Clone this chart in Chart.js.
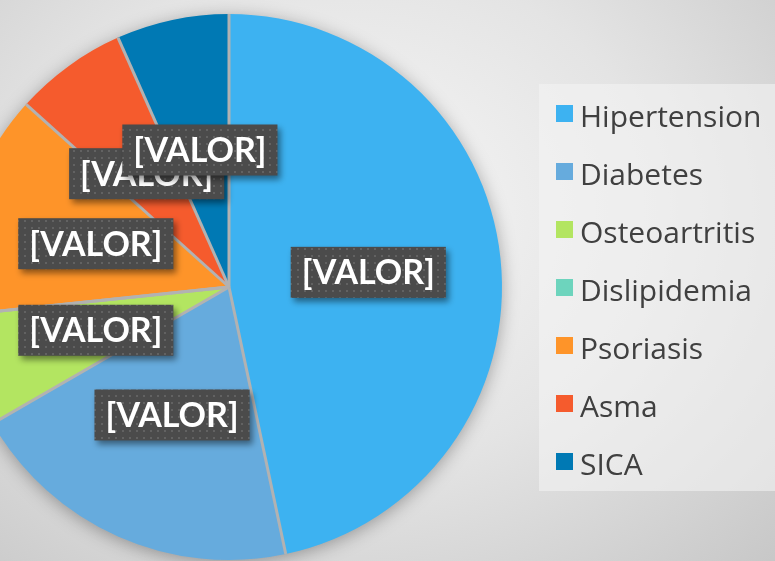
<!DOCTYPE html>
<html>
<head>
<meta charset="utf-8">
<script src="https://cdn.jsdelivr.net/npm/chart.js@4.4.1/dist/chart.umd.min.js"></script>
<style>
    html, body { margin: 0; padding: 0; }
    body {
        width: 775px; height: 561px; overflow: hidden;
        background: radial-gradient(ellipse 80% 90% at 45% 38%, #f7f7f7 0%, #e4e4e4 50%, #c6c6c6 100%);
    }
    #pieChart { display: block; }
</style>
</head>
<body>
<canvas id="pieChart" width="775" height="561"></canvas>
<script>
// ===== DATA =====
const categories = ['Hipertension', 'Diabetes', 'Osteoartritis', 'Dislipidemia', 'Psoriasis', 'Asma', 'SICA'];
const patientCounts = [14, 6, 2, 0, 4, 2, 2];
const valueLabels = ['[VALOR]', '[VALOR]', '[VALOR]', '[VALOR]', '[VALOR]', '[VALOR]', '[VALOR]'];
const sliceColors = ['#3db2f1', '#66abdd', '#b3e561', '#6dd4bd', '#fe9429', '#f55b2d', '#0079b4'];

// dotted fill used behind the data labels
function makeDotPattern(ctx) {
    const tile = document.createElement('canvas');
    tile.width = 7;
    tile.height = 7;
    const t = tile.getContext('2d');
    t.fillStyle = '#4b4b4b';
    t.fillRect(0, 0, 7, 7);
    t.fillStyle = '#626262';
    t.fillRect(3, 3, 2, 2);
    return ctx.createPattern(tile, 'repeat');
}

// soft shadow under the pie
const pieShadow = {
    id: 'pieShadow',
    beforeDatasetsDraw(chart) {
        const arc = chart.getDatasetMeta(0).data[0];
        if (!arc) return;
        const ctx = chart.ctx;
        ctx.save();
        ctx.shadowColor = 'rgba(0,0,0,0.35)';
        ctx.shadowBlur = 18;
        ctx.shadowOffsetY = 3;
        ctx.fillStyle = '#bbbbbb';
        ctx.beginPath();
        ctx.arc(arc.x, arc.y, arc.outerRadius - 1, 0, Math.PI * 2);
        ctx.fill();
        ctx.restore();
    }
};

// gray separators between slices (no outline on the outer edge)
const sliceSeparators = {
    id: 'sliceSeparators',
    afterDatasetsDraw(chart) {
        const ctx = chart.ctx;
        ctx.save();
        ctx.strokeStyle = '#b2b2b2';
        ctx.lineWidth = 3;
        chart.getDatasetMeta(0).data.forEach(arc => {
            ctx.beginPath();
            ctx.moveTo(arc.x, arc.y);
            ctx.lineTo(arc.x + Math.cos(arc.startAngle) * arc.outerRadius,
                       arc.y + Math.sin(arc.startAngle) * arc.outerRadius);
            ctx.stroke();
        });
        ctx.restore();
    }
};

// "[VALOR]" boxes placed along each slice's middle angle
const valueBoxes = {
    id: 'valueBoxes',
    afterDatasetsDraw(chart) {
        const ctx = chart.ctx;
        const pattern = makeDotPattern(ctx);
        const values = chart.data.datasets[0].data;
        ctx.save();
        ctx.font = 'bold 34px Lato';
        ctx.textAlign = 'center';
        ctx.textBaseline = 'middle';
        chart.getDatasetMeta(0).data.forEach((arc, i) => {
            if (!values[i]) return;
            const mid = (arc.startAngle + arc.endAngle) / 2;
            const r = arc.outerRadius * 0.513;
            const cx = arc.x + Math.cos(mid) * r;
            const cy = arc.y + Math.sin(mid) * r;
            const text = valueLabels[i];
            const w = ctx.measureText(text).width + 22;
            const h = 51;

            ctx.save();
            ctx.shadowColor = 'rgba(0,0,0,0.45)';
            ctx.shadowBlur = 6;
            ctx.shadowOffsetX = 3;
            ctx.shadowOffsetY = 4;
            ctx.fillStyle = pattern;
            ctx.fillRect(cx - w / 2, cy - h / 2, w, h);
            ctx.restore();

            ctx.fillStyle = '#ffffff';
            ctx.fillText(text, cx, cy + 1);
        });
        ctx.restore();
    }
};

// legend panel on the right
const sideLegend = {
    id: 'sideLegend',
    afterDraw(chart) {
        const ctx = chart.ctx;
        const colors = chart.data.datasets[0].backgroundColor;
        ctx.save();
        ctx.fillStyle = 'rgba(243,243,243,0.6)';
        ctx.fillRect(539, 84, 240, 407);

        ctx.font = '30px "Open Sans"';
        ctx.textAlign = 'left';
        ctx.textBaseline = 'alphabetic';
        chart.data.labels.forEach((label, i) => {
            const rowY = 113.5 + i * 58;
            ctx.fillStyle = colors[i];
            ctx.fillRect(556, rowY - 8.5, 17, 17);
            ctx.fillStyle = '#404040';
            ctx.fillText(label, 580, rowY + 13);
        });
        ctx.restore();
    }
};

document.addEventListener('DOMContentLoaded', () => {
    const ctx = document.getElementById('pieChart').getContext('2d');
    window.pieChart = new Chart(ctx, {
        type: 'pie',
        data: {
            labels: categories,
            datasets: [{
                data: patientCounts,
                backgroundColor: sliceColors,
                borderWidth: 0,
                clip: false
            }]
        },
        options: {
            responsive: false,
            devicePixelRatio: 1,
            animation: false,
            radius: 273,
            layout: { padding: { left: 0, right: 317, top: 14, bottom: 1 } },
            plugins: {
                legend: { display: false },
                tooltip: { enabled: false }
            }
        },
        plugins: [pieShadow, sliceSeparators, valueBoxes, sideLegend]
    });
});
</script>
</body>
</html>
